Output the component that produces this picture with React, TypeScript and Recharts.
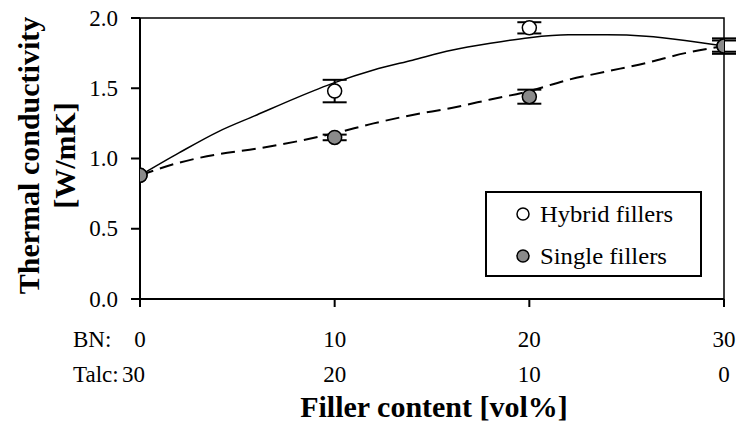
import {
  ComposedChart,
  Line,
  Scatter,
  ErrorBar,
  XAxis,
  YAxis,
  ReferenceArea,
  Legend,
} from "recharts";

// filler composition (vol%): BN goes up while talc goes down
const bnContent = [0, 10, 20, 30];
const talcContent = [30, 20, 10, 0];

// measured thermal conductivity [W/mK]
const hybridValues = [0.88, 1.48, 1.93, 1.8];
const hybridErrors = [0, 0.08, 0.04, 0.04];
const singleValues = [0.88, 1.15, 1.44, 1.8];
const singleErrors = [0, 0.02, 0.05, 0.055];

// trend curves
const trendBn = [0, 2, 4, 6, 8, 10, 12, 14, 16, 18, 20, 22, 24, 26, 28, 30];
const hybridTrend = [0.88, 1.04, 1.19, 1.31, 1.43, 1.54, 1.63, 1.7, 1.77, 1.82, 1.86, 1.88, 1.88, 1.87, 1.84, 1.8];
const singleTrend = [0.88, 0.97, 1.03, 1.07, 1.12, 1.18, 1.25, 1.31, 1.36, 1.42, 1.48, 1.56, 1.62, 1.68, 1.75, 1.8];

const yTicks = [0, 0.5, 1, 1.5, 2];

const FONT = "'Liberation Serif', 'Times New Roman', serif";
const GREY = "#8a8a8a";

const hybridPoints = bnContent.map((x, i) => ({ x, y: hybridValues[i], err: hybridErrors[i] }));
const singlePoints = bnContent.map((x, i) => ({ x, y: singleValues[i], err: singleErrors[i] }));
const hybridLine = trendBn.map((x, i) => ({ x, y: hybridTrend[i] }));
const singleLine = trendBn.map((x, i) => ({ x, y: singleTrend[i] }));

function marker(fill: string) {
  return (props: any) => (
    <circle cx={props.cx} cy={props.cy} r={7} fill={fill} stroke="#000" strokeWidth={1.5} />
  );
}

const noMarker = () => <g />;

function XTick(props: any) {
  const { x, y, payload } = props;
  const i = bnContent.indexOf(payload.value);
  const first = i === 0;
  const t = { fontFamily: FONT, fontSize: 23, fill: "#000" };
  return (
    <g>
      <text {...t} x={x} y={y + 38} textAnchor="middle">{bnContent[i]}</text>
      <text {...t} x={first ? x + 5 : x} y={y + 73} textAnchor={first ? "end" : "middle"}>
        {talcContent[i]}
      </text>
      {first && (
        <>
          <text {...t} x={x - 67} y={y + 38} textAnchor="start">BN:</text>
          <text {...t} x={x - 67} y={y + 73} textAnchor="start">Talc:</text>
        </>
      )}
    </g>
  );
}

function YTick(props: any) {
  const { x, y, payload } = props;
  return (
    <text x={x} y={y} dy="0.33em" textAnchor="end" fontFamily={FONT} fontSize={23} fill="#000">
      {Number(payload.value).toFixed(1)}
    </text>
  );
}

function YTitle(props: any) {
  const { viewBox } = props;
  const cy = viewBox.y + viewBox.height / 2 - 3;
  const t = { fontFamily: FONT, fontSize: 30, fontWeight: "bold", fill: "#000" };
  return (
    <g>
      <text {...t} x={28} y={cy} transform={`rotate(-90, 28, ${cy})`} textAnchor="middle" dominantBaseline="central">
        Thermal conductivity
      </text>
      <text {...t} x={64} y={cy} transform={`rotate(-90, 64, ${cy})`} textAnchor="middle" dominantBaseline="central">
        [W/mK]
      </text>
    </g>
  );
}

function XTitle(props: any) {
  const { viewBox } = props;
  return (
    <text
      x={viewBox.x + viewBox.width / 2 + 2}
      y={viewBox.y + 118}
      textAnchor="middle"
      fontFamily={FONT}
      fontSize={30}
      fontWeight="bold"
      fill="#000"
    >
      Filler content [vol%]
    </text>
  );
}

function LegendBox() {
  const rows = [
    { label: "Hybrid fillers", fill: "#fff", len: 133 },
    { label: "Single fillers", fill: GREY, len: 127 },
  ];
  return (
    <svg width={217} height={86} style={{ display: "block" }}>
      <rect x={1} y={1} width={215} height={84} fill="#fff" stroke="#000" strokeWidth={2} />
      {rows.map((r, i) => (
        <g key={r.label}>
          <circle cx={38} cy={23 + i * 42} r={6} fill={r.fill} stroke="#000" strokeWidth={1.5} />
          <text
            x={55}
            y={23 + i * 42}
            dy="0.34em"
            fontFamily={FONT}
            fontSize={24}
            fill="#000"
            textLength={r.len}
            lengthAdjust="spacingAndGlyphs"
          >
            {r.label}
          </text>
        </g>
      ))}
    </svg>
  );
}

export default function App() {
  return (
    <div style={{ position: "absolute", left: 0, top: 0, background: "#fff" }}>
      <ComposedChart width={737} height={425} margin={{ top: 18, right: 13, bottom: 0, left: 0 }}>
        <XAxis
          type="number"
          dataKey="x"
          domain={[0, 30]}
          ticks={bnContent}
          height={126}
          stroke="#000"
          strokeWidth={2}
          tickSize={8}
          tick={<XTick />}
          label={<XTitle />}
          allowDataOverflow
        />
        <YAxis
          type="number"
          domain={[0, 2]}
          ticks={yTicks}
          width={140}
          stroke="#000"
          strokeWidth={2}
          tickSize={9}
          tickMargin={13}
          tick={<YTick />}
          label={<YTitle />}
          allowDataOverflow
        />
        <ReferenceArea x1={0} x2={30} y1={0} y2={2} fill="none" stroke="#000" strokeWidth={1.5} ifOverflow="visible" />
        <Line
          data={hybridLine}
          dataKey="y"
          type="monotone"
          stroke="#000"
          strokeWidth={1.5}
          dot={false}
          activeDot={false}
          isAnimationActive={false}
          name="hybrid trend"
          legendType="none"
        />
        <Line
          data={singleLine}
          dataKey="y"
          type="monotone"
          stroke="#000"
          strokeWidth={2}
          strokeDasharray="14 7"
          dot={false}
          activeDot={false}
          isAnimationActive={false}
          name="single trend"
          legendType="none"
        />
        {/* error bars first so the markers sit on top of them */}
        <Scatter data={hybridPoints} dataKey="y" shape={noMarker} isAnimationActive={false} legendType="none" name="hybrid error">
          <ErrorBar dataKey="err" direction="y" width={12} stroke="#000" strokeWidth={2} />
        </Scatter>
        <Scatter data={singlePoints} dataKey="y" shape={noMarker} isAnimationActive={false} legendType="none" name="single error">
          <ErrorBar dataKey="err" direction="y" width={12} stroke="#000" strokeWidth={2} />
        </Scatter>
        <Scatter data={hybridPoints} dataKey="y" shape={marker("#fff")} isAnimationActive={false} name="Hybrid fillers" />
        <Scatter data={singlePoints} dataKey="y" shape={marker(GREY)} isAnimationActive={false} name="Single fillers" />
        <Legend
          layout="vertical"
          align="center"
          verticalAlign="middle"
          content={<LegendBox />}
          wrapperStyle={{ position: "absolute", left: 485, top: 191, width: 217, height: 86 }}
        />
      </ComposedChart>
    </div>
  );
}
